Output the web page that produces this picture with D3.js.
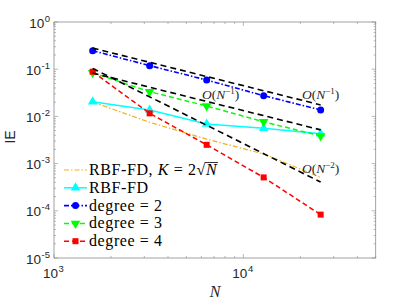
<!DOCTYPE html>
<html>
<head>
<meta charset="utf-8">
<script src="https://cdn.jsdelivr.net/npm/d3@7"></script>
<style>
  html, body { margin: 0; padding: 0; background: #fff; }
  svg { display: block; }
</style>
</head>
<body>
<div id="chart"></div>
<script>
// sample sizes
var nodes = [1600, 3200, 6400, 12800, 25600];
// integration error for each method
var rbfK = [0.0202, 0.0075, 0.0033, 0.0016, 0.00051];
var rbf = [0.0205, 0.0137, 0.0069, 0.0056, 0.0043];
var deg2 = [0.247, 0.119, 0.059, 0.0275, 0.0137];
var deg3 = [0.084, 0.0334, 0.0166, 0.0077, 0.00385];
var deg4 = [0.0885, 0.0116, 0.0025, 0.00051, 0.000083];
// reference slopes: [value at first N, order]
var refLines = [[0.28, 1], [0.083, 1], [0.104, 2]];
var xTicks = [1e3, 1e4];
var yTicks = [1e-5, 1e-4, 1e-3, 1e-2, 1e-1, 1];

var W = 415, H = 305;
var m = { l: 54, t: 22, r: 375.7, b: 258 };

var svg = d3.select('#chart').append('svg').attr('width', W).attr('height', H);

var xx = d3.scaleLog().domain([1e3, 5e4]).range([m.l, m.r]);
var yy = d3.scaleLog().domain([1e-5, 1]).range([m.b, m.t]);

var axisCol = '#8a8a8a';
var textCol = '#262626';
var sans = 'Liberation Sans, Arial, sans-serif';
var serif = 'Liberation Serif, serif';

// minor ticks
var xMinor = [], yMinor = [];
xTicks.forEach(function(d) {
  for (var k = 2; k <= 9; k++) if (d * k <= 5e4) xMinor.push(d * k);
});
yTicks.slice(0, -1).forEach(function(d) {
  for (var k = 2; k <= 9; k++) yMinor.push(d * k);
});

var g = svg.append('g');

function tickMarks(vals, len, isX) {
  vals.forEach(function(v) {
    if (isX) {
      var px = xx(v);
      g.append('line').attr('x1', px).attr('x2', px).attr('y1', m.b).attr('y2', m.b - len).attr('stroke', axisCol).attr('stroke-width', 0.6);
      g.append('line').attr('x1', px).attr('x2', px).attr('y1', m.t).attr('y2', m.t + len).attr('stroke', axisCol).attr('stroke-width', 0.6);
    } else {
      var py = yy(v);
      g.append('line').attr('x1', m.l).attr('x2', m.l + len).attr('y1', py).attr('y2', py).attr('stroke', axisCol).attr('stroke-width', 0.6);
      g.append('line').attr('x1', m.r).attr('x2', m.r - len).attr('y1', py).attr('y2', py).attr('stroke', axisCol).attr('stroke-width', 0.6);
    }
  });
}
tickMarks(xTicks, 4, true);
tickMarks(xMinor, 2, true);
tickMarks(yTicks, 4, false);
tickMarks(yMinor, 2, false);

g.append('rect').attr('x', m.l).attr('y', m.t).attr('width', m.r - m.l).attr('height', m.b - m.t)
  .attr('fill', 'none').attr('stroke', axisCol).attr('stroke-width', 0.8);

// tick labels: 10 with a raised exponent
function powLabel(sel, v) {
  var e = Math.round(Math.log10(v));
  sel.append('tspan').text('10');
  sel.append('tspan').attr('dy', -6).attr('dx', 0.5).attr('font-size', 9.5).text(e < 0 ? '-' + (-e) : '' + e);
}
yTicks.forEach(function(v) {
  var t = svg.append('text').attr('x', 50).attr('y', yy(v) + 5.5).attr('text-anchor', 'end')
    .attr('font-family', sans).attr('font-size', 13.5).attr('fill', textCol);
  powLabel(t, v);
});
xTicks.forEach(function(v) {
  var t = svg.append('text').attr('x', xx(v) - 11).attr('y', 278).attr('text-anchor', 'start')
    .attr('font-family', sans).attr('font-size', 13.5).attr('fill', textCol);
  powLabel(t, v);
});

svg.append('text').attr('transform', 'translate(15,137) rotate(-90)').attr('text-anchor', 'middle')
  .attr('font-family', sans).attr('font-size', 14).attr('fill', textCol).text('IE');
svg.append('text').attr('x', 215).attr('y', 297).attr('text-anchor', 'middle')
  .attr('font-family', serif).attr('font-style', 'italic').attr('font-size', 16).attr('fill', textCol).text('N');

// series
var series = [
  { vals: rbfK, col: '#EDB120', dash: '5,2,1.5,2', mark: null, w: 1.2 },
  { vals: rbf, col: '#00FFFF', dash: null, mark: 'up', w: 1.5 },
  { vals: deg2, col: '#0000FF', dash: '5,2,1.5,2', mark: 'circle', w: 1.6 },
  { vals: deg3, col: '#00FF00', dash: '5,3', mark: 'down', w: 1.5 },
  { vals: deg4, col: '#FF0000', dash: '5,3', mark: 'square', w: 1.5 }
];
var line = d3.line().x(function(d) { return xx(d[0]); }).y(function(d) { return yy(d[1]); });

var plot = svg.append('g');

function drawMark(sel, type, cx, cy, col) {
  if (type === 'circle') {
    sel.append('circle').attr('cx', cx).attr('cy', cy).attr('r', 3.5).attr('fill', col);
  } else if (type === 'square') {
    sel.append('rect').attr('x', cx - 3).attr('y', cy - 3).attr('width', 6).attr('height', 6).attr('fill', col);
  } else if (type === 'up') {
    sel.append('path').attr('d', d3.symbol().type(d3.symbolTriangle).size(40)()).attr('transform', 'translate(' + cx + ',' + cy + ')').attr('fill', col);
  } else if (type === 'down') {
    sel.append('path').attr('d', d3.symbol().type(d3.symbolTriangle).size(40)()).attr('transform', 'translate(' + cx + ',' + cy + ') rotate(180)').attr('fill', col);
  }
}

series.forEach(function(s) {
  var pts = nodes.map(function(n, i) { return [n, s.vals[i]]; });
  plot.append('path').attr('d', line(pts)).attr('fill', 'none').attr('stroke', s.col)
    .attr('stroke-width', s.w).attr('stroke-dasharray', s.dash);
  if (s.mark) pts.forEach(function(p) { drawMark(plot, s.mark, xx(p[0]), yy(p[1]), s.col); });
});

// reference slopes
refLines.forEach(function(r) {
  var pts = nodes.map(function(n) { return [n, r[0] * Math.pow(nodes[0] / n, r[1])]; });
  plot.append('path').attr('d', line([pts[0], pts[pts.length - 1]])).attr('fill', 'none').attr('stroke', '#000')
    .attr('stroke-width', 1.6).attr('stroke-dasharray', '6,4');
});

// slope labels
function orderLabel(x, y, p) {
  var t = svg.append('text').attr('x', x).attr('y', y).attr('font-family', serif)
    .attr('font-size', 13.5).attr('fill', textCol);
  t.append('tspan').attr('font-style', 'italic').text('O');
  t.append('tspan').text('(');
  t.append('tspan').attr('font-style', 'italic').text('N');
  t.append('tspan').attr('dy', -5).attr('font-size', 9).text('\u2212' + p);
  t.append('tspan').attr('dy', 5).text(')');
}
orderLabel(202, 99, 1);
orderLabel(302, 99, 1);
orderLabel(302, 173, 2);

// legend
var labels = ['RBF-FD, K = 2\u221AN', 'RBF-FD', 'degree = 2', 'degree = 3', 'degree = 4'];
var leg = svg.append('g');
series.forEach(function(s, i) {
  var ly = 170 + i * 17.8;
  leg.append('line').attr('x1', 64).attr('x2', 87).attr('y1', ly).attr('y2', ly).attr('stroke', s.col)
    .attr('stroke-width', s.w).attr('stroke-dasharray', s.dash);
  if (s.mark) drawMark(leg, s.mark, 75.5, ly, s.col);
  var t = leg.append('text').attr('x', 89).attr('y', ly + 5).attr('font-family', serif)
    .attr('font-size', 16).attr('letter-spacing', 0.6).attr('fill', '#000');
  if (i === 0) {
    t.append('tspan').text('RBF-FD, ');
    t.append('tspan').attr('font-style', 'italic').text('K');
    t.append('tspan').text(' = 2\u221A');
    t.append('tspan').attr('font-style', 'italic').text('N');
    var bb = t.node().getBBox();
    leg.append('line').attr('x1', bb.x + bb.width - 13).attr('x2', bb.x + bb.width).attr('y1', ly - 7.5).attr('y2', ly - 7.5)
      .attr('stroke', '#000').attr('stroke-width', 0.8);
  } else {
    t.text(labels[i]);
  }
});
</script>
</body>
</html>
